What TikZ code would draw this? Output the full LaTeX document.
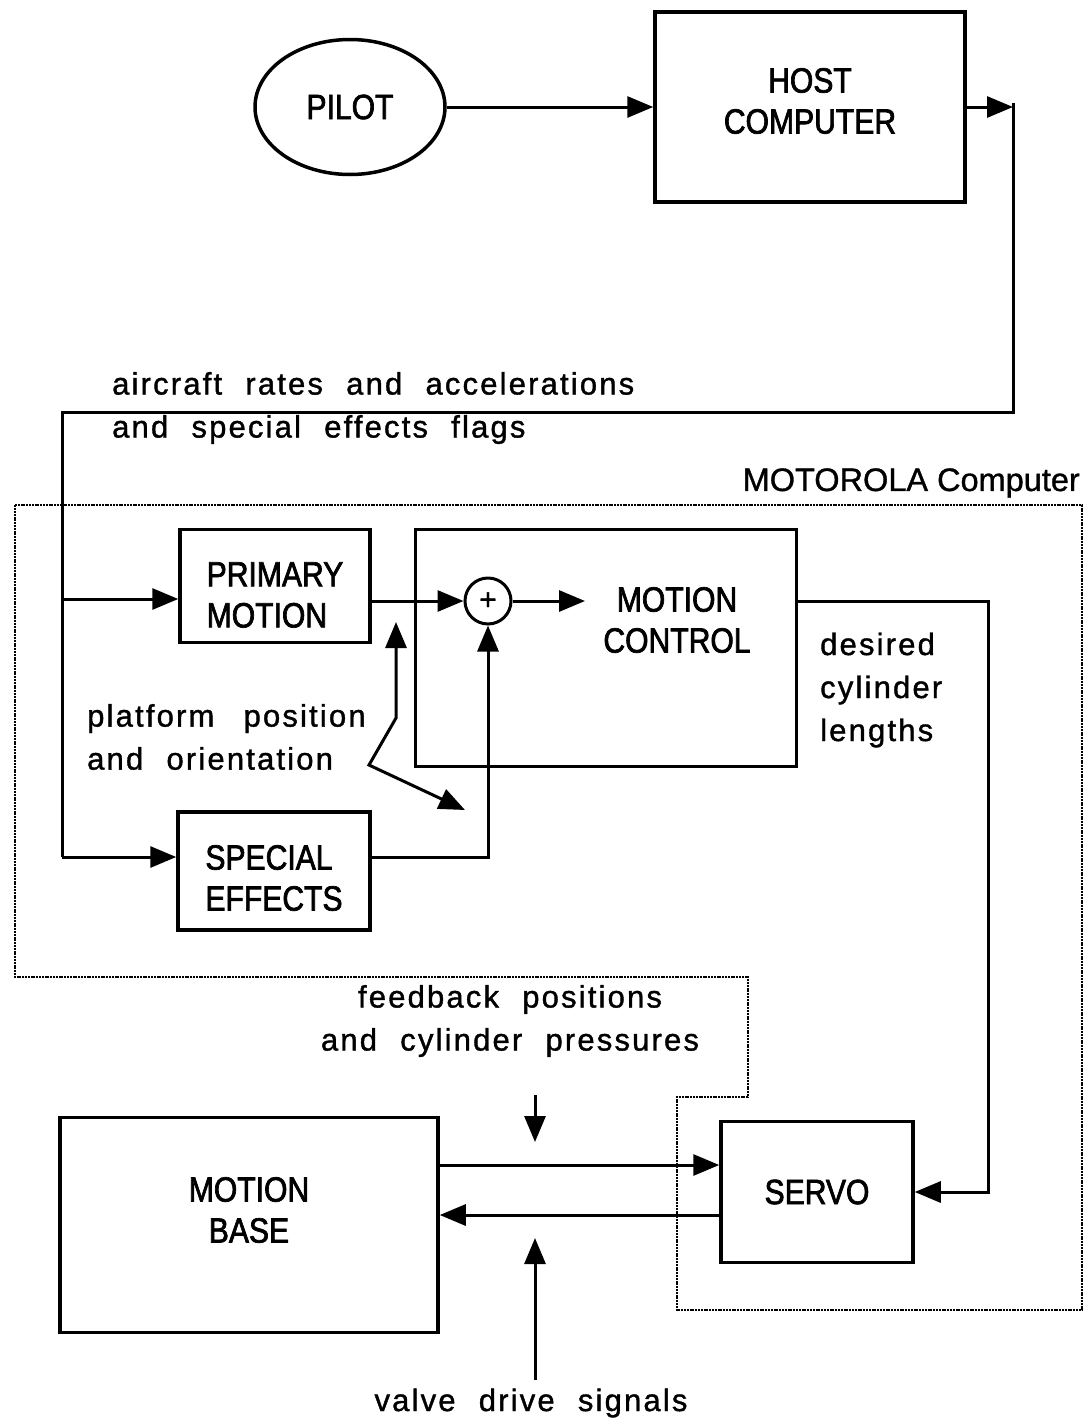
\documentclass[tikz,border=0pt]{standalone}
\usepackage{fontspec}
\setmainfont{Liberation Sans}
\newfontfamily\boxfont[FakeStretch=0.86,FakeBold=2]{Liberation Sans}
\newfontfamily\lblfont[LetterSpace=7,FakeBold=1.2]{Liberation Sans}
\newfontfamily\motofont[FakeBold=1]{Liberation Sans}
\usetikzlibrary{arrows.meta,shapes.geometric,positioning}
\newcommand\widewords{\spaceskip=0.75em\relax}
\tikzset{
  block/.style={draw,line width=3.5pt,inner sep=0pt,align=center,font=\boxfont\fontsize{35}{41}\selectfont},
  boxtext/.style={inner sep=0pt,align=center,font=\boxfont\fontsize{35}{41}\selectfont},
  lbl/.style={align=left,inner sep=0pt,font=\lblfont\fontsize{31}{43}\selectfont,execute at begin node=\widewords},
  wire/.style={line width=3pt},
  arr/.style={wire,-{Triangle[length=26pt,width=21pt]}},
  motorola/.style={line width=2.5pt,dash pattern=on 2pt off 0.8pt}
}
\begin{document}
\begin{tikzpicture}[x=1pt,y=-1pt]
\useasboundingbox (0,0) rectangle (1086,1427);
\node[block,ellipse,minimum width=190,minimum height=135] (pilot) at (350,107) {PILOT};
\node[block,minimum width=310,minimum height=190,label={[boxtext,yshift=6pt]center:{HOST\\COMPUTER}}] (host) at (810,107) {};
\node[block,minimum width=190,minimum height=113,label={[boxtext,align=left,yshift=-9pt]center:{PRIMARY\\MOTION}}] (primary) at (275,586) {};
\node[block,minimum width=381,minimum height=237] (control) at (606,648) {};
\node[boxtext] (controltext) at (677,620) {MOTION\\CONTROL};
\node[block,circle,line width=3pt,minimum size=46,font=\motofont\fontsize{30}{30}\selectfont] (plus) at (488,601) {+};
\node[block,minimum width=192,minimum height=118,label={[boxtext,align=left,yshift=-7pt]center:{SPECIAL\\EFFECTS}}] (special) at (274,871) {};
\node[block,minimum width=378,minimum height=215,label={[boxtext,yshift=15pt]center:{MOTION\\BASE}}] (base) at (249,1225) {};
\node[block,minimum width=192,minimum height=141] (servo) at (817,1192) {SERVO};

\node[lbl,anchor=west] (aircraft) at (112,408) {aircraft rates and accelerations\\and special effects flags};
\node[anchor=east,inner sep=0pt,font=\motofont\fontsize{32.5}{40}\selectfont] (motolabel) at (1080,483) {MOTOROLA Computer};
\node[lbl,anchor=west] (platform) at (87,737) {platform\hspace{6pt} position\\and orientation};
\node[lbl,anchor=west] (desired) at (820,690) {desired\\cylinder\\lengths};
\node[lbl,align=center] (feedback) at (510,1021) {feedback positions\\and cylinder pressures};
\node[lbl] (valve) at (531,1403) {valve drive signals};

\coordinate (hostout) at (1013,107);
\coordinate (tr) at (1013,412);
\coordinate (tl) at (62,412);
\coordinate (split1) at (62,599);
\coordinate (bl) at (62,857);
\coordinate (ctin) at (585,601);
\coordinate (cr1) at (988,601);
\coordinate (z1) at (396,622);
\coordinate (z2) at (396,718);
\coordinate (z3) at (369,765);
\coordinate (z4) at (465,810);
\coordinate (fbtop) at (535,1095);
\coordinate (fbtip) at (535,1142);
\coordinate (vdbot) at (535,1380);
\coordinate (vdtip) at (535,1238);
\coordinate (out) at (0,1165);
\coordinate (back) at (0,1215);

\draw[motorola] (15,505) -- (1082,505) -- (1082,1310) -- (677,1310) -- (677,1097) -- (748,1097) -- (748,977) -- (15,977) -- cycle;

\draw[arr] (pilot) -- (host);
\draw[arr] (host.east |- hostout) -- (hostout);
\draw[wire] (1013,103) -- (tr) -- (tl) -- (bl);
\draw[arr] (split1) -- (split1 -| primary.west);
\draw[arr] (plus -| primary.east) -- (plus.west);
\draw[arr] (plus) -- (ctin);
\draw[arr] (bl) -- (bl -| special.west);
\draw[arr] (bl -| special.east) -- (bl -| plus) -- (plus.south);
\draw[arr] (plus -| control.east) -- (cr1) -- (cr1 |- servo) -- (servo.east);
\draw[wire,{Triangle[length=26pt,width=21pt]}-{Triangle[length=26pt,width=21pt]}] (z1) -- (z2) -- (z3) -- (z4);
\draw[arr] (base.east |- out) -- (servo.west |- out);
\draw[arr] (servo.west |- back) -- (base.east |- back);
\draw[arr] (fbtop) -- (fbtip);
\draw[arr] (vdbot) -- (vdtip);
\end{tikzpicture}
\end{document}
